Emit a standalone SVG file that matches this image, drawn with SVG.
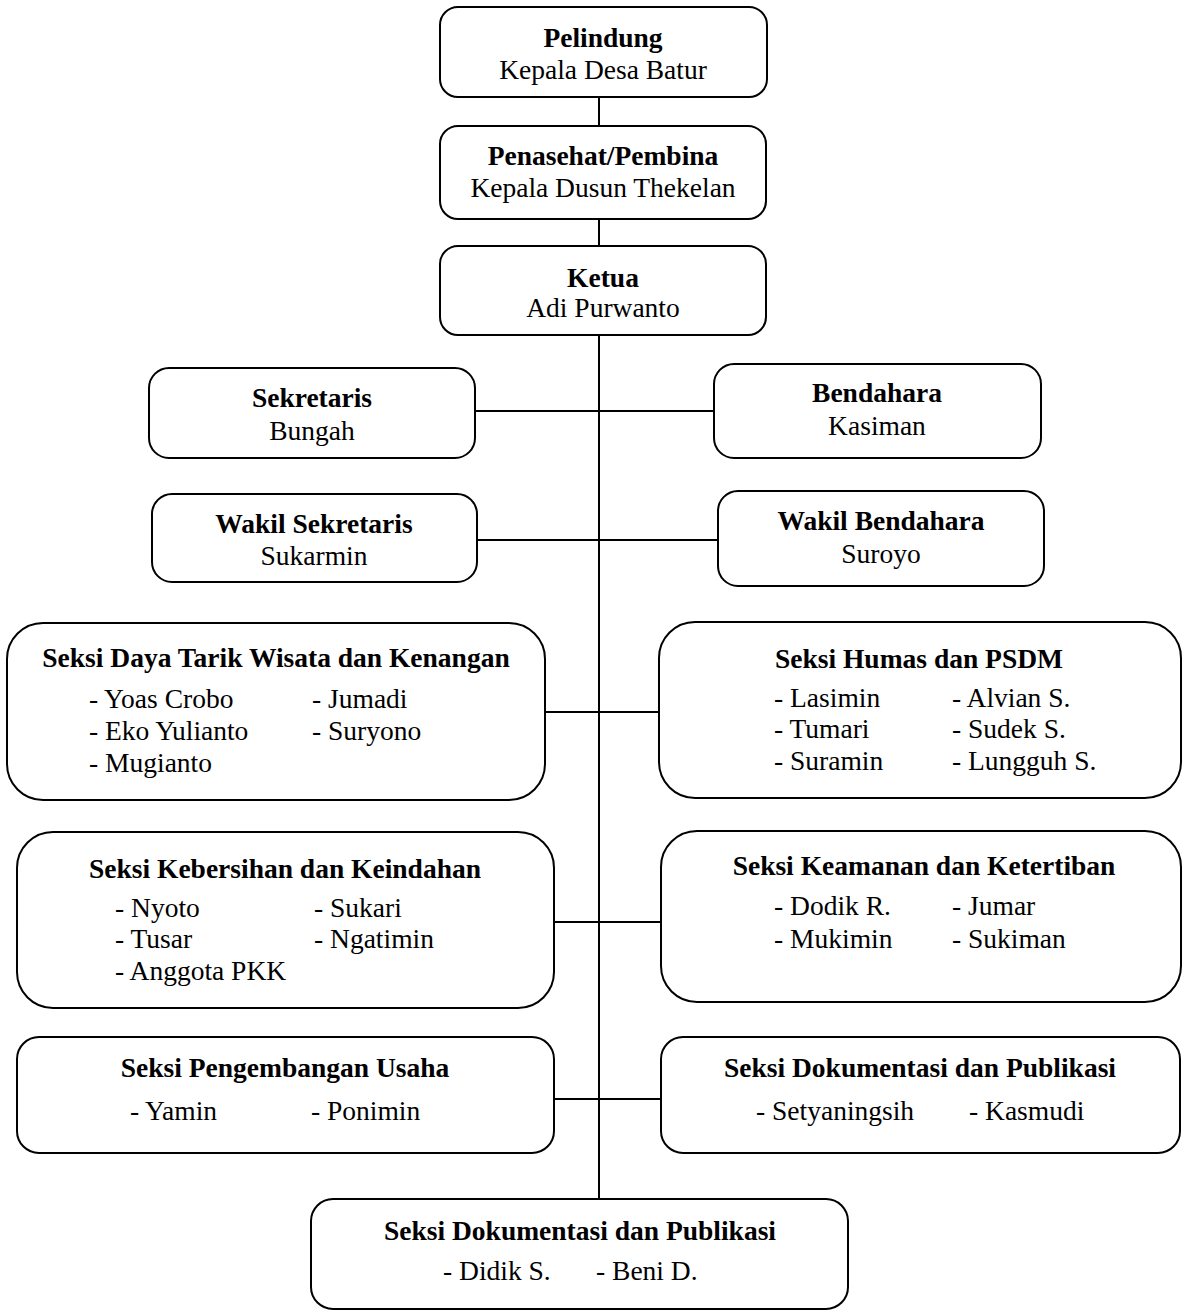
<svg xmlns="http://www.w3.org/2000/svg" width="1182" height="1311" viewBox="0 0 1182 1311">
<style>
.box{fill:#fff;stroke:#000;stroke-width:2}
.con{stroke:#000;stroke-width:2;fill:none}
text{font-family:"Liberation Serif","Times New Roman",serif;font-size:27.5px;fill:#000}
.t{font-weight:bold;text-anchor:middle}
.c{text-anchor:middle}
</style>
<rect width="1182" height="1311" fill="#fff"/>
<g id="connectors">
<line class="con" x1="599" y1="97" x2="599" y2="126"/>
<line class="con" x1="599" y1="219" x2="599" y2="246"/>
<line class="con" x1="599" y1="335" x2="599" y2="1199"/>
<line class="con" x1="475" y1="411" x2="714" y2="411"/>
<line class="con" x1="477" y1="540" x2="718" y2="540"/>
<line class="con" x1="545" y1="712" x2="659" y2="712"/>
<line class="con" x1="554" y1="922" x2="661" y2="922"/>
<line class="con" x1="554" y1="1099" x2="661" y2="1099"/>
</g>
<g id="pelindung">
<rect class="box" x="440" y="7" width="327" height="90" rx="18"/>
<text class="t" x="603" y="47">Pelindung</text>
<text class="c" x="603" y="79">Kepala Desa Batur</text>
</g>
<g id="penasehat">
<rect class="box" x="440" y="126" width="326" height="93" rx="18"/>
<text class="t" x="603" y="165">Penasehat/Pembina</text>
<text class="c" x="603" y="197">Kepala Dusun Thekelan</text>
</g>
<g id="ketua">
<rect class="box" x="440" y="246" width="326" height="89" rx="18"/>
<text class="t" x="603" y="287">Ketua</text>
<text class="c" x="603" y="317">Adi Purwanto</text>
</g>
<g id="sekretaris">
<rect class="box" x="149" y="368" width="326" height="90" rx="20"/>
<text class="t" x="312" y="407">Sekretaris</text>
<text class="c" x="312" y="440">Bungah</text>
</g>
<g id="bendahara">
<rect class="box" x="714" y="364" width="327" height="94" rx="20"/>
<text class="t" x="877" y="402">Bendahara</text>
<text class="c" x="877" y="435">Kasiman</text>
</g>
<g id="wakil-sekretaris">
<rect class="box" x="152" y="494" width="325" height="88" rx="20"/>
<text class="t" x="314" y="533">Wakil Sekretaris</text>
<text class="c" x="314" y="565">Sukarmin</text>
</g>
<g id="wakil-bendahara">
<rect class="box" x="718" y="491" width="326" height="95" rx="20"/>
<text class="t" x="881" y="530">Wakil Bendahara</text>
<text class="c" x="881" y="563">Suroyo</text>
</g>
<g id="seksi-daya-tarik">
<rect class="box" x="7" y="623" width="538" height="177" rx="36"/>
<text class="t" x="276" y="667">Seksi Daya Tarik Wisata dan Kenangan</text>
<text x="89" y="708">- Yoas Crobo</text>
<text x="89" y="740">- Eko Yulianto</text>
<text x="89" y="772">- Mugianto</text>
<text x="312" y="708">- Jumadi</text>
<text x="312" y="740">- Suryono</text>
</g>
<g id="seksi-humas">
<rect class="box" x="659" y="622" width="522" height="176" rx="36"/>
<text class="t" x="919" y="668">Seksi Humas dan PSDM</text>
<text x="774" y="707">- Lasimin</text>
<text x="774" y="738">- Tumari</text>
<text x="774" y="770">- Suramin</text>
<text x="952" y="707">- Alvian S.</text>
<text x="952" y="738">- Sudek S.</text>
<text x="952" y="770">- Lungguh S.</text>
</g>
<g id="seksi-kebersihan">
<rect class="box" x="17" y="832" width="537" height="176" rx="36"/>
<text class="t" x="285" y="878">Seksi Kebersihan dan Keindahan</text>
<text x="115" y="917">- Nyoto</text>
<text x="115" y="948">- Tusar</text>
<text x="115" y="980">- Anggota PKK</text>
<text x="314" y="917">- Sukari</text>
<text x="314" y="948">- Ngatimin</text>
</g>
<g id="seksi-keamanan">
<rect class="box" x="661" y="831" width="520" height="171" rx="36"/>
<text class="t" x="924" y="875">Seksi Keamanan dan Ketertiban</text>
<text x="774" y="915">- Dodik R.</text>
<text x="774" y="948">- Mukimin</text>
<text x="952" y="915">- Jumar</text>
<text x="952" y="948">- Sukiman</text>
</g>
<g id="seksi-pengembangan">
<rect class="box" x="17" y="1037" width="537" height="116" rx="22"/>
<text class="t" x="285" y="1077">Seksi Pengembangan Usaha</text>
<text x="130" y="1120">- Yamin</text>
<text x="311" y="1120">- Ponimin</text>
</g>
<g id="seksi-dokumentasi-1">
<rect class="box" x="661" y="1037" width="519" height="116" rx="22"/>
<text class="t" x="920" y="1077">Seksi Dokumentasi dan Publikasi</text>
<text x="756" y="1120">- Setyaningsih</text>
<text x="969" y="1120">- Kasmudi</text>
</g>
<g id="seksi-dokumentasi-2">
<rect class="box" x="311" y="1199" width="537" height="110" rx="22"/>
<text class="t" x="580" y="1240">Seksi Dokumentasi dan Publikasi</text>
<text x="443" y="1280">- Didik S.</text>
<text x="596" y="1280">- Beni D.</text>
</g>
</svg>
